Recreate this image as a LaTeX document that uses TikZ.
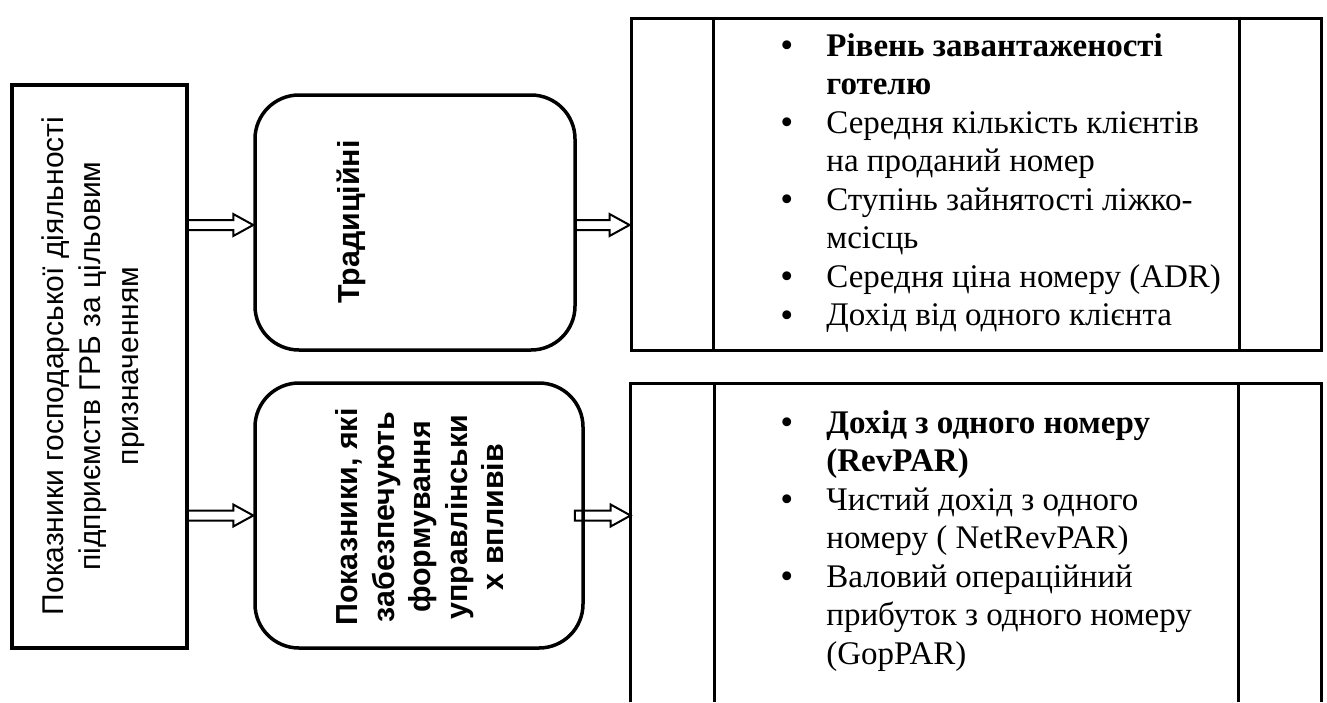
\documentclass[tikz,border=0pt]{standalone}
\usepackage{fontspec}
\usepackage{graphicx}
\setmainfont{Liberation Serif}
\setsansfont{Liberation Sans}
\usetikzlibrary{calc}

\tikzset{
  frame/.style={draw, line width=1.6pt, inner sep=0pt},
  framehidden/.style={inner sep=0pt},
  rbox/.style={draw, line width=1.75pt, rounded corners=22pt, inner sep=0pt},
  blockarrow/.style={draw, line width=1pt, line join=miter},
  sidetext/.style={font=\sffamily\fontsize{15}{18.75}\selectfont, rotate=90, align=center},
  boldside/.style={font=\sffamily\bfseries\fontsize{15.2}{18.25}\selectfont, rotate=90, align=center},
  listtext/.style={font=\fontsize{16.5}{19.25}\selectfont, anchor=base west, inner sep=0pt},
}

% list bullet, a little heavier than the text bullet
\newcommand\bul{\raisebox{-0.12ex}{\scalebox{1.12}{•}}}

% hollow block arrow between two named coordinates on one horizontal line
\newcommand\hollowarrow[2]{%
  \draw[blockarrow] ($(#1)+(0,5)$) -- ($(#2)+(-20,5)$) -- ($(#2)+(-20,11)$) -- (#2)
    -- ($(#2)+(-20,-11)$) -- ($(#2)+(-20,-5)$) -- ($(#1)+(0,-5)$);
}

\begin{document}
\begin{tikzpicture}[x=0.5pt, y=-0.5pt]
\useasboundingbox (0,0) rectangle (1327,702);

% left column
\node[frame, minimum width=87.5pt, minimum height=281.5pt] (L) at (99.5,366.5) {};
\node[sidetext] (Ltext) at (93,366) {Показники господарської діяльності\\підприємств ГРБ за цільовим\\призначенням};

% middle column
\node[rbox, minimum width=160pt, minimum height=127.5pt] (T) at (415,222.5) {};
\node[boldside] (Ttext) at (351,222) {Традиційні};

\node[rbox, minimum width=164pt, minimum height=132.5pt] (B) at (419,515.5) {};
\node[boldside] (Btext) at (420,517) {Показники, які\\забезпечують\\формування\\управлінськи\\х впливів};

% right column
\node[frame, line width=1.5pt, minimum width=345pt, minimum height=166pt] (R1) at (976,184) {};
\draw[line width=1.5pt] ([xshift=42pt]R1.north west) -- ([xshift=42pt]R1.south west);
\draw[line width=1.5pt] ([xshift=-41.5pt]R1.north east) -- ([xshift=-41.5pt]R1.south east);

\node[framehidden, minimum width=345pt, minimum height=159pt] (R2) at (976,543) {};
\draw[line width=1.5pt] (R2.south west) |- (R2.north east) -- (R2.south east);
\draw[line width=1.5pt] ([xshift=42pt]R2.north west) -- ([xshift=42pt]R2.south west);
\draw[line width=1.5pt] ([xshift=-41.5pt]R2.north east) -- ([xshift=-41.5pt]R2.south east);

\node[listtext] (R1text) at (780,56) {\begin{tabular}[t]{@{}p{23pt}@{}l@{}}
\bul&\textbf{Рівень завантаженості}\\
&\textbf{готелю}\\
\bul&Середня кількість клієнтів\\
&на проданий номер\\
\bul&Ступінь зайнятості ліжко-\\
&мсісць\\
\bul&Середня ціна номеру (ADR)\\
\bul&Дохід від одного клієнта
\end{tabular}};

\node[listtext] (R2text) at (780,433) {\begin{tabular}[t]{@{}p{23pt}@{}l@{}}
\bul&\textbf{Дохід з одного номеру}\\
&\textbf{(RevPAR)}\\
\bul&Чистий дохід з одного\\
&номеру ( NetRevPAR)\\
\bul&Валовий операційний\\
&прибуток з одного номеру\\
&(GopPAR)
\end{tabular}};

% connectors
\coordinate (a1s) at (L.east |- 0,225);
\coordinate (a1e) at (T.west |- 0,225);
\hollowarrow{a1s}{a1e}
\coordinate (a2s) at (L.east |- B.west);
\hollowarrow{a2s}{B.west}
\coordinate (a3s) at (T.east |- 0,225);
\coordinate (a3e) at (R1.west |- 0,225);
\hollowarrow{a3s}{a3e}
\coordinate (a4s) at ($(B.east)+(-10,0)$);
\coordinate (a4e) at (R2.west |- B.east);
\draw[blockarrow] ($(a4s)+(0,5)$) -- ($(a4e)+(-20,5)$) -- ($(a4e)+(-20,11)$) -- (a4e)
    -- ($(a4e)+(-20,-11)$) -- ($(a4e)+(-20,-5)$) -- ($(a4s)+(0,-5)$) -- cycle;
\end{tikzpicture}
\end{document}
